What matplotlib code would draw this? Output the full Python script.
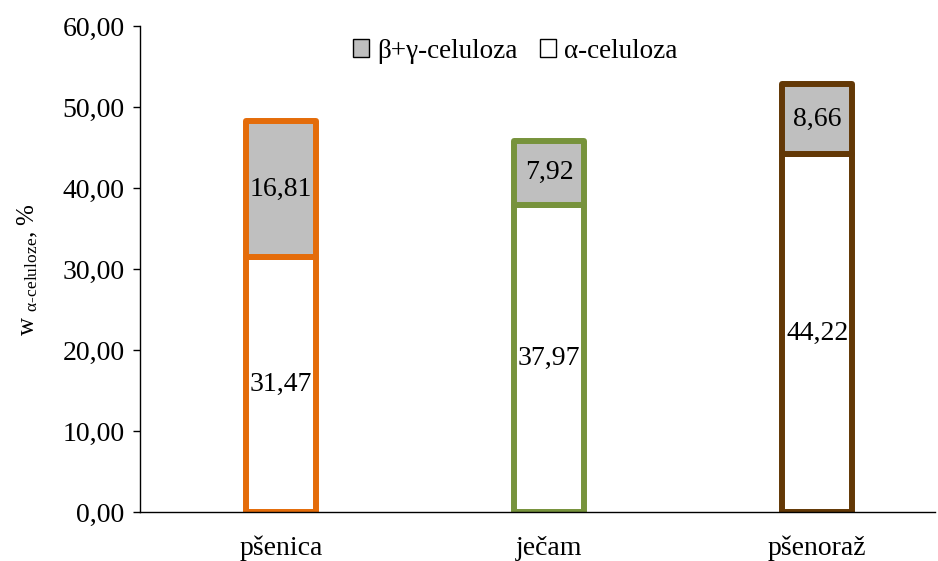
import matplotlib.pyplot as plt
import matplotlib.ticker as mticker

plt.rcParams['font.family'] = ['Liberation Serif', 'DejaVu Serif']
plt.rcParams['mathtext.fontset'] = 'custom'
plt.rcParams['mathtext.rm'] = 'Liberation Serif'
plt.rcParams['mathtext.it'] = 'Liberation Serif'

kategorije = ['pšenica', 'ječam', 'pšenoraž']
alfa = [31.47, 37.97, 44.22]
beta_gama = [16.81, 7.92, 8.66]
boje = ['#E46C0A', '#77933C', '#633806']

def zarez(v, pos=None):
    return f'{v:.2f}'.replace('.', ',')

fig, ax = plt.subplots(figsize=(9.38, 5.61), dpi=100)
fig.subplots_adjust(left=0.149, right=0.997, top=0.953, bottom=0.087)

x = range(len(kategorije))
sirina = 0.26
b1 = ax.bar(x, alfa, sirina, color='white', edgecolor=boje, linewidth=4.3,
            joinstyle='round', label='α-celuloza', zorder=2)
b2 = ax.bar(x, beta_gama, sirina, bottom=alfa, color='#BFBFBF', edgecolor=boje,
            linewidth=4.3, joinstyle='round', label='β+γ-celuloza', zorder=2)

for i in x:
    ax.text(i, alfa[i] / 2, zarez(alfa[i]), ha='center', va='center', fontsize=20, zorder=3)
    ax.text(i, alfa[i] + beta_gama[i] / 2, zarez(beta_gama[i]), ha='center', va='center',
            fontsize=20, zorder=3)

ax.set_xlim(-0.526, 2.44)
ax.set_ylim(0, 60)
ax.set_yticks(range(0, 61, 10))
ax.yaxis.set_major_formatter(mticker.FuncFormatter(zarez))
ax.set_xticks(list(x))
ax.set_xticklabels(kategorije)
ax.tick_params(axis='y', labelsize=20, length=5, width=1, pad=6)
ax.tick_params(axis='x', labelsize=20, length=0, pad=17)
for s in ['top', 'right']:
    ax.spines[s].set_visible(False)
ax.spines['left'].set_linewidth(1)
ax.spines['bottom'].set_linewidth(1)

ax.set_ylabel(r'w $_{\text{α-celuloze}}$, %', fontsize=18, labelpad=16)

leg = ax.legend(handles=[b2, b1], loc='upper center', bbox_to_anchor=(0.472, 1.025), ncol=2,
                frameon=False, fontsize=19.5, handlelength=0.6, handleheight=0.6,
                handletextpad=0.3, columnspacing=0.8)
for h in leg.legend_handles:
    h.set_edgecolor('black')
    h.set_linewidth(1)

fig.savefig('out.png', dpi=100)
